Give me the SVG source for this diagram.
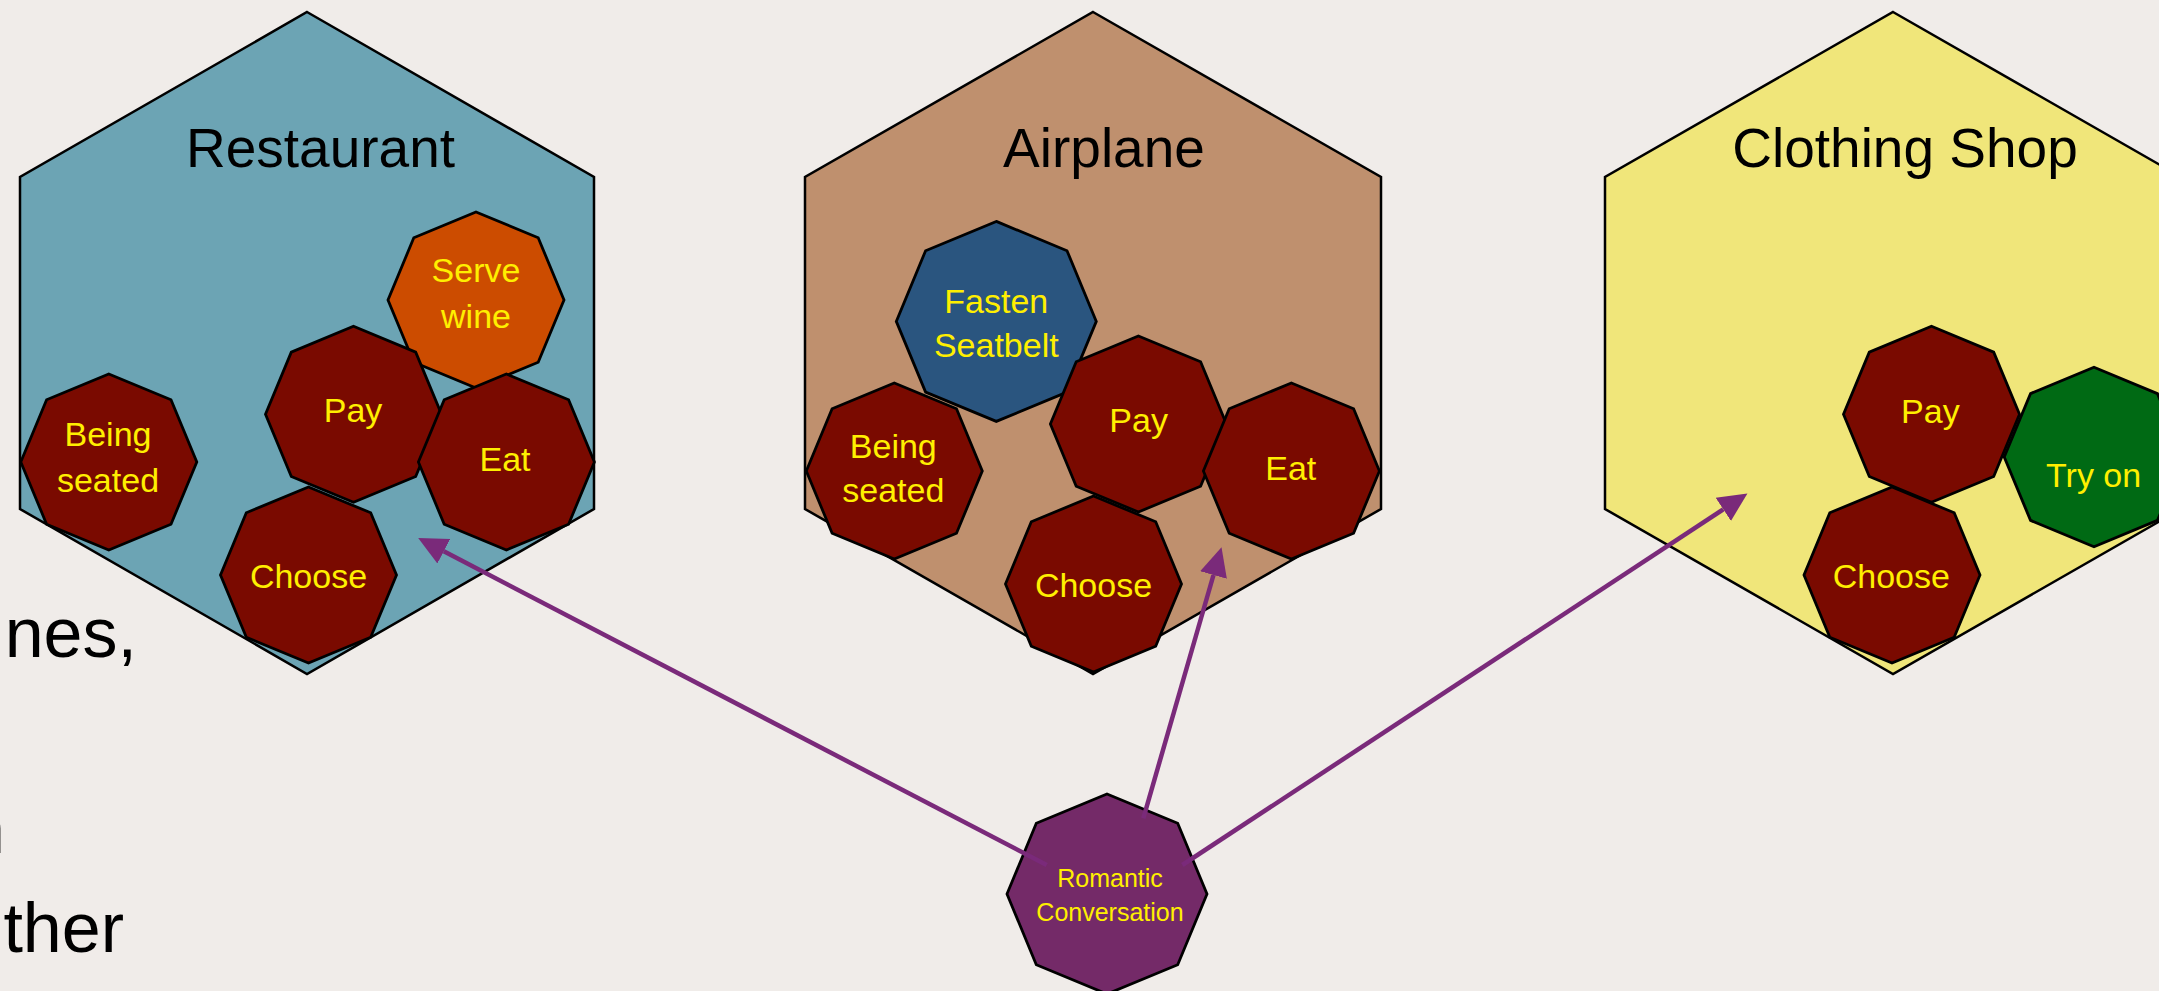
<svg xmlns="http://www.w3.org/2000/svg" width="2159" height="991" viewBox="0 0 2159 991">
<style>
.hex{stroke:#000;stroke-width:2.5;stroke-linejoin:miter}
.oct{stroke:#000;stroke-width:2.8}
.red{fill:#7A0A00}
.lbl{font-family:"Liberation Sans",Arial,sans-serif;font-size:34px;fill:#FFEF00;text-anchor:middle}
.ttl{font-family:"Liberation Sans",Arial,sans-serif;font-size:55px;fill:#000;text-anchor:middle}
.side{font-family:"Liberation Sans",Arial,sans-serif;font-size:70px;fill:#000;text-anchor:end}
.arr{stroke:#7A2A7A;stroke-width:4.5;fill:none;marker-end:url(#ah)}
</style>
<defs>
<path id="o88" d="M0,-88 L62.2,-62.2 L88,0 L62.2,62.2 L0,88 L-62.2,62.2 L-88,0 L-62.2,-62.2 Z"/>
<path id="o100" d="M0,-100 L70.7,-70.7 L100,0 L70.7,70.7 L0,100 L-70.7,70.7 L-100,0 L-70.7,-70.7 Z"/>
<marker id="ah" markerUnits="userSpaceOnUse" markerWidth="30" markerHeight="30" viewBox="0 -13 27 26" refX="0" refY="0" orient="auto">
<path d="M0,-12.5 L26,0 L0,12.5 Z" fill="#7A2A7A"/>
</marker>
</defs>
<rect width="2159" height="991" fill="#F0ECE9"/>

<g id="side-text">
<text class="side" x="137" y="657">nes,</text>
<text class="side" x="5" y="853">n</text>
<text class="side" x="124" y="952">ther</text>
</g>

<g id="restaurant">
<polygon class="hex" fill="#6CA4B4" points="307,12 594,177 594,509 307,674 20,509 20,177"/>
<text class="ttl" x="320.5" y="167">Restaurant</text>
</g>
<g id="r-being-seated">
<use href="#o88" class="oct red" transform="translate(108.8,462)"/>
<text class="lbl" x="108" y="446">Being</text>
<text class="lbl" x="108" y="492">seated</text>
</g>
<g id="r-serve-wine">
<use href="#o88" class="oct" fill="#CC4C00" transform="translate(476,300)"/>
<text class="lbl" x="476" y="282">Serve</text>
<text class="lbl" x="476" y="328">wine</text>
</g>
<g id="r-pay">
<use href="#o88" class="oct red" transform="translate(353.5,414.3)"/>
<text class="lbl" x="353" y="422">Pay</text>
</g>
<g id="r-eat">
<use href="#o88" class="oct red" transform="translate(506.4,462)"/>
<text class="lbl" x="505" y="471">Eat</text>
</g>
<g id="r-choose">
<use href="#o88" class="oct red" transform="translate(308.5,575)"/>
<text class="lbl" x="308.5" y="588">Choose</text>
</g>

<g id="airplane">
<polygon class="hex" fill="#BF906E" points="1093,12 1381,177 1381,509 1093,674 805,509 805,177"/>
<text class="ttl" x="1104" y="167">Airplane</text>
</g>
<g id="a-fasten-seatbelt">
<use href="#o100" class="oct" fill="#2A557F" transform="translate(996.3,321.4)"/>
<text class="lbl" x="996.3" y="312.5">Fasten</text>
<text class="lbl" x="996.3" y="357">Seatbelt</text>
</g>
<g id="a-being-seated">
<use href="#o88" class="oct red" transform="translate(894.3,471)"/>
<text class="lbl" x="893.3" y="457.6">Being</text>
<text class="lbl" x="893.3" y="502">seated</text>
</g>
<g id="a-pay">
<use href="#o88" class="oct red" transform="translate(1138.4,424)"/>
<text class="lbl" x="1138.6" y="432">Pay</text>
</g>
<g id="a-eat">
<use href="#o88" class="oct red" transform="translate(1291.4,471)"/>
<text class="lbl" x="1290.8" y="480">Eat</text>
</g>
<g id="a-choose">
<use href="#o88" class="oct red" transform="translate(1093.5,584)"/>
<text class="lbl" x="1093.5" y="597">Choose</text>
</g>

<g id="clothing-shop">
<polygon class="hex" fill="#F0E67A" points="1893,12 2181,177 2181,509 1893,674 1605,509 1605,177"/>
<text class="ttl" x="1905" y="167">Clothing Shop</text>
</g>
<g id="c-pay">
<use href="#o88" class="oct red" transform="translate(1931.5,414.3)"/>
<text class="lbl" x="1930.4" y="423">Pay</text>
</g>
<g id="c-try-on">
<use href="#o88" class="oct" fill="#006A14" transform="translate(2094,457) scale(1.02)"/>
<text class="lbl" x="2093.6" y="486.6">Try on</text>
</g>
<g id="c-choose">
<use href="#o88" class="oct red" transform="translate(1892,575)"/>
<text class="lbl" x="1891.3" y="587.5">Choose</text>
</g>

<g id="romantic-conversation">
<use href="#o100" class="oct" fill="#742A68" transform="translate(1107,894)"/>
<text class="lbl" x="1110" y="887" style="font-size:25px">Romantic</text>
<text class="lbl" x="1110" y="921" style="font-size:25px">Conversation</text>
</g>

<g id="connectors">
<line class="arr" x1="1046.7" y1="865" x2="443.8" y2="551.3"/>
<line class="arr" x1="1143.3" y1="818.3" x2="1213.5" y2="575"/>
<line class="arr" x1="1182.3" y1="865" x2="1723.3" y2="509.3"/>
</g>
</svg>
